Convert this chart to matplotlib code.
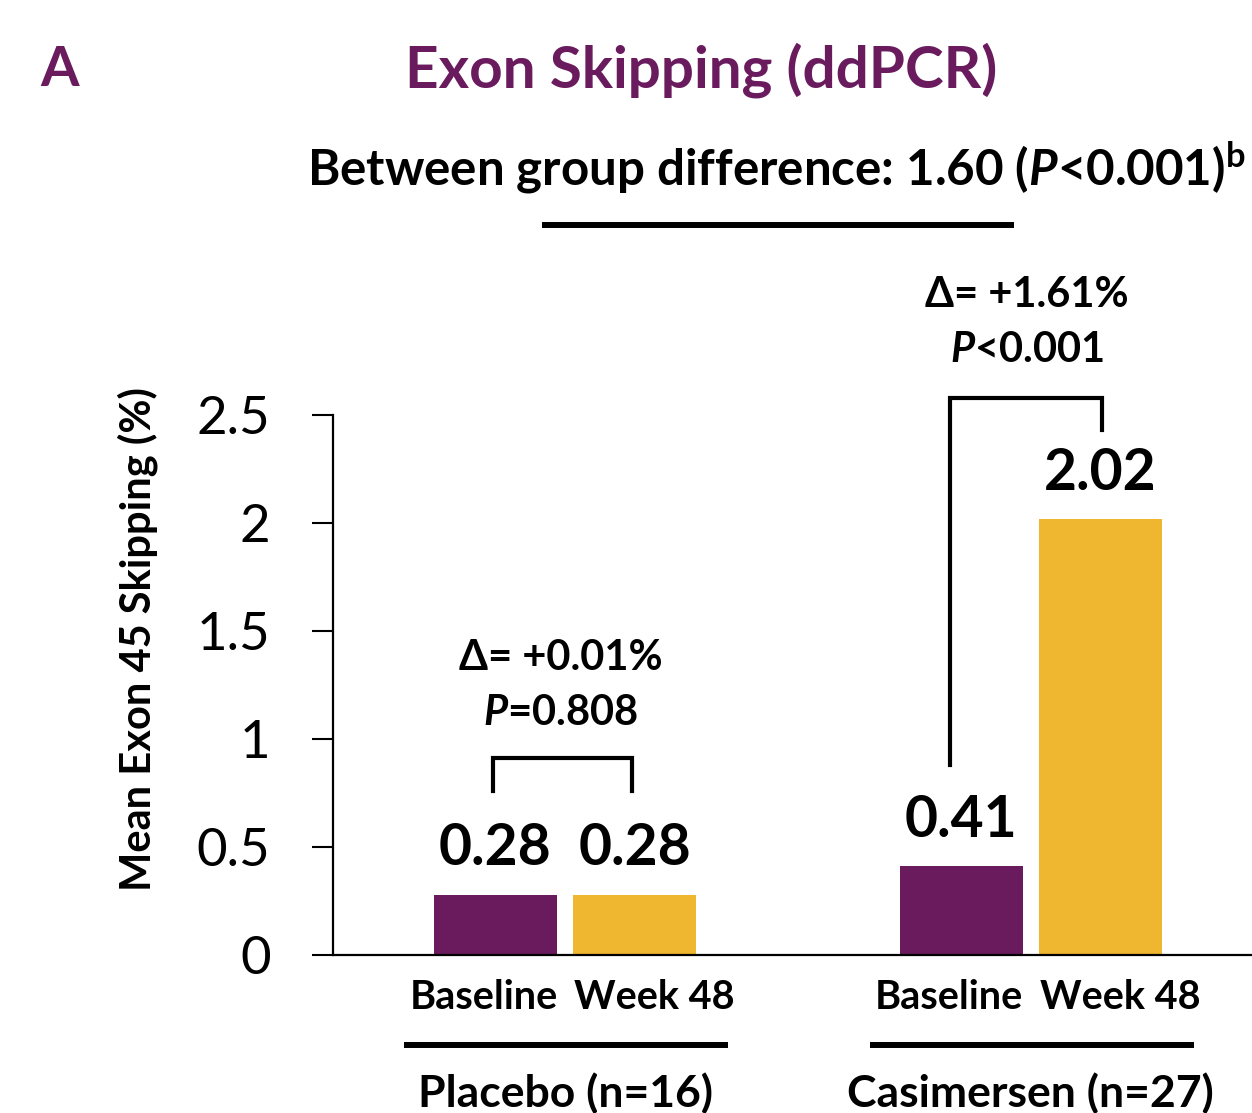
import numpy as np
import matplotlib
matplotlib.use("Agg")
import matplotlib.pyplot as plt

plt.rcParams['font.family'] = ['Lato', 'DejaVu Sans']
plt.rcParams['mathtext.fontset'] = 'custom'
plt.rcParams['mathtext.rm'] = 'Lato:bold'
plt.rcParams['mathtext.it'] = 'Lato:italic:bold'
plt.rcParams['mathtext.bf'] = 'Lato:bold'

# data
groups = ["Placebo (n=16)", "Casimersen (n=27)"]
timepoints = ["Baseline", "Week 48"]
baseline = [0.28, 0.41]
week48 = [0.28, 2.02]
deltas = ["Δ= +0.01%", "Δ= +1.61%"]
pvals = [r"$\mathit{P}$=0.808", r"$\mathit{P}$<0.001"]
yticks = [0, 0.5, 1, 1.5, 2, 2.5]
yticklabels = ["0", "0.5", "1", "1.5", "2", "2.5"]

purple = "#691b5e"
gold = "#efb72f"

fig = plt.figure(figsize=(12.52, 11.13), dpi=100)
ax = fig.add_axes([333/1252, 158/1113, 1 - 333/1252, (955-415)/1113])

# x in pixel-like units
centers = np.array([565, 1030.5])
off = 69.5
bw = 123
ax.bar(centers - off, baseline, width=bw, color=purple)
ax.bar(centers + off, week48, width=bw, color=gold)
ax.set_xlim(333, 1252)
ax.set_ylim(0, 2.5)

for s in ["top", "right"]:
    ax.spines[s].set_visible(False)
ax.spines["left"].set_linewidth(1.6)
ax.spines["bottom"].set_linewidth(1.6)
ax.set_yticks(yticks)
ax.set_yticklabels(yticklabels, fontsize=38)
ax.tick_params(axis="y", length=15, width=1.5, pad=30)
ax.set_xticks([])
ax.set_ylabel("Mean Exon 45 Skipping (%)", fontsize=30, fontweight="bold")
ax.yaxis.set_label_coords(-0.190, 0.585)

# value labels
for i in range(2):
    for x, v in [(centers[i] - off, baseline[i]), (centers[i] + off, week48[i])]:
        ax.text(x, v + 0.135, f"{v:.2f}", ha="center", va="baseline",
                fontsize=41, fontweight="bold")

# x labels
for i in range(2):
    ax.text(centers[i] - off - 12, -0.195, timepoints[0], ha="center", va="center",
            fontsize=28.5, fontweight="bold", clip_on=False)
    ax.text(centers[i] + off + 20, -0.195, timepoints[1], ha="center", va="center",
            fontsize=28.5, fontweight="bold", clip_on=False)
    ax.plot([centers[i] - 161, centers[i] + 163], [-0.417, -0.417], color="black",
            lw=4.3, clip_on=False, solid_capstyle="butt")
    ax.text(centers[i], -0.64, groups[i], ha="center", va="center",
            fontsize=32, fontweight="bold", clip_on=False)

# brackets
ax.plot([493, 493, 632, 632], [0.76, 0.91, 0.91, 0.76], color="black", lw=3,
        clip_on=False, solid_joinstyle="miter")
ax.plot([950, 950, 1102, 1102], [0.88, 2.58, 2.58, 2.43], color="black", lw=3,
        clip_on=False, solid_joinstyle="miter")
ax.text(561, 1.375, deltas[0], ha="center", va="center", fontsize=30,
        fontweight="bold", clip_on=False)
ax.text(561, 1.12, pvals[0], ha="center", va="center", fontsize=30,
        fontweight="bold", clip_on=False)
ax.text(1027, 3.056, deltas[1], ha="center", va="center", fontsize=30,
        fontweight="bold", clip_on=False)
ax.text(1027, 2.80, pvals[1], ha="center", va="center", fontsize=30,
        fontweight="bold", clip_on=False)

# headers
ax.text(776, 3.644, r"Between group difference: 1.60 ($\mathit{P}$<0.001)$^{\mathrm{b}}$",
        ha="center", va="center", fontsize=35.5, fontweight="bold", clip_on=False)
ax.plot([542, 1014], [3.38, 3.38], color="black", lw=4.3, clip_on=False,
        solid_capstyle="butt")
ax.text(701, 4.097, "Exon Skipping (ddPCR)", ha="center", va="center", fontsize=42,
        fontweight="bold", color=purple, clip_on=False)
ax.text(40, 4.097, "A", ha="left", va="center", fontsize=40, fontweight="bold",
        color=purple, clip_on=False)

fig.savefig("out.png", dpi=100)
